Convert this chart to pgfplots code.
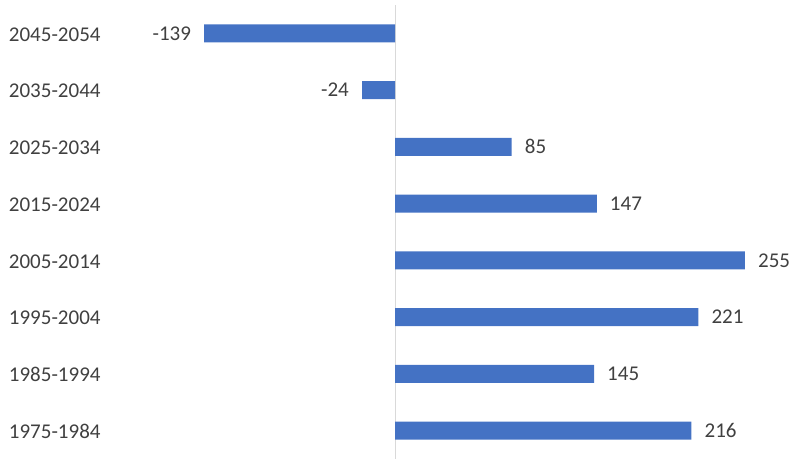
\documentclass[border=0pt]{standalone}
\usepackage{pgfplots}
\pgfplotsset{compat=1.18}
\usepackage{fontspec}
\setmainfont{Carlito}
\definecolor{barblue}{HTML}{4472C4}
\definecolor{txt}{HTML}{404040}
\definecolor{axgray}{HTML}{D9D9D9}
\begin{document}
\begin{tikzpicture}[x=1pt,y=1pt]
\path (0,0) rectangle (800,465);
\begin{axis}[
  at={(112pt,6pt)}, anchor=south west,
  scale only axis, width=678pt, height=454pt,
  xbar, bar width=18pt, bar shift=0pt,
  xmin=-206.2, xmax=287.8,
  ymin=-0.5, ymax=7.5,
  axis line style={draw=none},
  major tick style={draw=none},
  ytick={0,...,7},
  yticklabels={1975-1984,1985-1994,1995-2004,2005-2014,2015-2024,2025-2034,2035-2044,2045-2054},
  xtick=\empty,
  every tick label/.append style={font=\fontsize{21}{25}\selectfont, text=txt},
  yticklabel style={anchor=east, inner sep=0pt, xshift=-7pt, yshift=-1pt},
  point meta=explicit symbolic,
  clip=false,
]
\draw[axgray, line width=1pt] (axis cs:0,-0.5) -- (axis cs:0,7.5);
\addplot[fill=barblue, draw=none, nodes near coords,
  every node near coord/.style={font=\fontsize{21}{25}\selectfont, text=txt, inner sep=0pt, anchor=west, xshift=13pt}]
  coordinates {
  (216,0) [216] (145,1) [145] (221,2) [221] (255,3) [255]
  (147,4) [147] (85,5) [85]
};
\addplot[fill=barblue, draw=none, nodes near coords,
  every node near coord/.style={font=\fontsize{21}{25}\selectfont, text=txt, inner sep=0pt, anchor=east, xshift=-13pt}]
  coordinates {
  (-24,6) [-24] (-139,7) [-139]
};
\end{axis}
\end{tikzpicture}
\end{document}
